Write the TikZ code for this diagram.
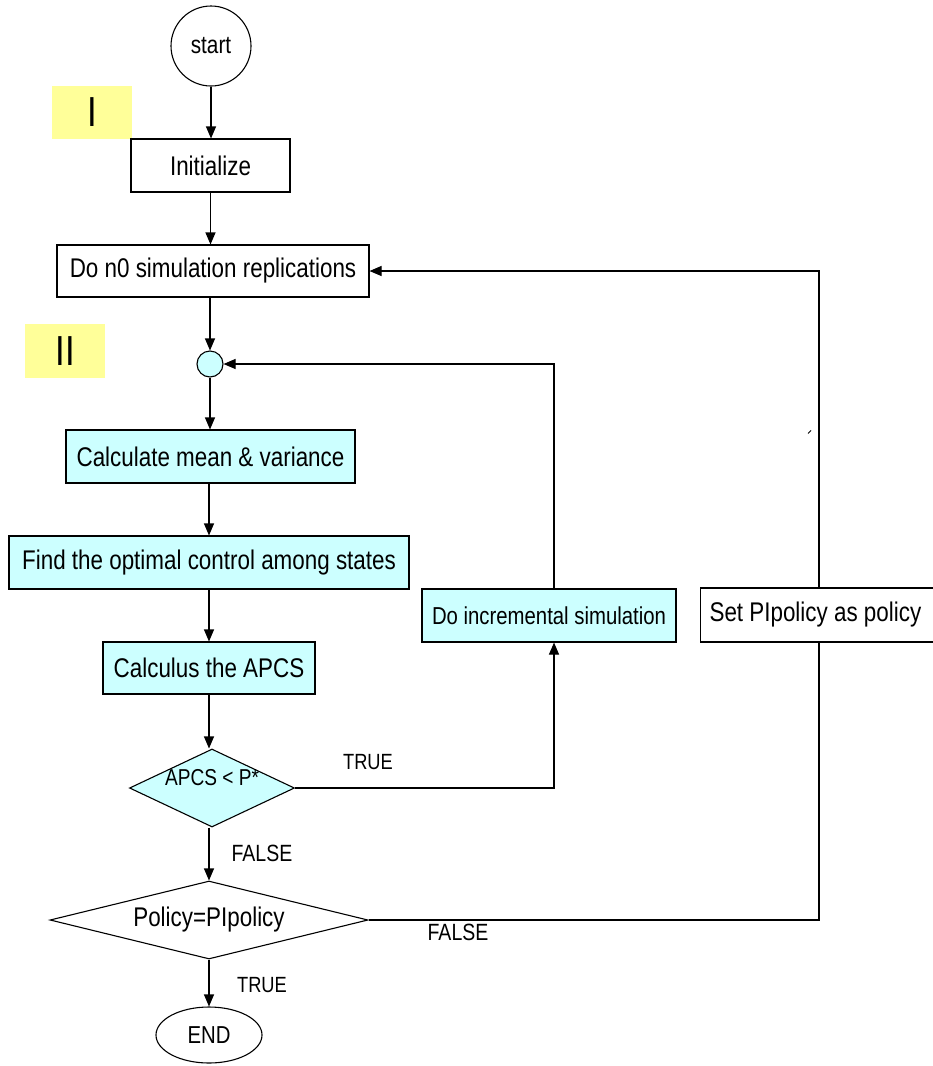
\documentclass[tikz,border=0pt]{standalone}
\usepackage{fontspec}
\setmainfont{Liberation Sans}[FakeStretch=0.83]
\usetikzlibrary{shapes.geometric,arrows.meta}
\definecolor{lcyan}{HTML}{CCFFFF}
\definecolor{lyellow}{HTML}{FFFF99}
\tikzset{
  every node/.style={font=\fontsize{27}{32}\selectfont, inner sep=0pt},
  box/.style={draw, line width=1.1pt, rectangle},
  cbox/.style={box, fill=lcyan},
  dia/.style={draw, line width=1.1pt, diamond, inner sep=0pt},
  arr/.style={line width=1.1pt, -{Triangle[length=12pt,width=10pt]}},
  ln/.style={line width=1.1pt},
  lbl/.style={font=\fontsize{22}{26}\selectfont},
  tag/.style={fill=lyellow, font=\fontsize{42}{48}\selectfont}
}
\begin{document}
\begin{tikzpicture}[x=1pt,y=-1pt]
\useasboundingbox (0,0) rectangle (933,1066);
\begin{scope}
\clip (0,0) rectangle (933,1066);
% yellow tags
\node[tag, minimum width=80pt, minimum height=53pt] (tagI) at (92,112.5) {I};
\node[tag, minimum width=80pt, minimum height=54pt] (tagII) at (65,351) {II};
% nodes
\node[draw, line width=1.1pt, circle, minimum size=80pt, font=\fontsize{25}{30}\selectfont] (start) at (211,46) {start};
\node[box, minimum width=159pt, minimum height=53pt] (init) at (210.5,165.5) {Initialize};
\node[box, minimum width=312pt, minimum height=52pt] (don) at (213,271) {Do n0 simulation replications};
\node[draw, line width=1.1pt, circle, fill=lcyan, minimum size=26pt] (dot) at (210,364) {};
\node[cbox, minimum width=289pt, minimum height=53pt] (calc) at (210.5,456.5) {Calculate mean \& variance};
\node[cbox, minimum width=400pt, minimum height=53pt] (find) at (209,562.5) {Find the optimal control among states};
\node[cbox, minimum width=212pt, minimum height=52pt] (apcsc) at (209,668) {Calculus the APCS};
\node[dia, fill=lcyan, minimum width=165pt, minimum height=78pt, aspect=2.1] (apcs) at (212,788) {};
\node[font=\fontsize{23}{27}\selectfont] (apcst) at (212,778) {APCS < P*};
\node[dia, minimum width=318pt, minimum height=78pt, aspect=4.1] (pol) at (209,920) {Policy=PIpolicy};
\node[draw, line width=1.1pt, ellipse, minimum width=106pt, minimum height=56pt, font=\fontsize{24.5}{29}\selectfont] (end) at (209,1035) {END};
\node[cbox, minimum width=254pt, minimum height=53pt, font=\fontsize{24.5}{29}\selectfont] (incr) at (549,615.5) {Do incremental simulation};
\node[box, inner xsep=9pt, minimum height=54pt, anchor=west] (set) at (700,615) {\makebox[232pt][l]{Set PIpolicy as policy}};
\coordinate (xa) at (554,0);
\coordinate (xb) at (819,0);
% labels
\node[lbl] (t1) at (368,762) {TRUE};
\node[lbl, font=\fontsize{23.5}{28}\selectfont] (f1) at (262,853) {FALSE};
\node[lbl, font=\fontsize{23.5}{28}\selectfont] (f2) at (458,932) {FALSE};
\node[lbl] (t2) at (262,985) {TRUE};
% connectors
\draw[arr] (start.south) -- (init.north -| start.south);
\draw[arr] (init.south) -- (init.south |- don.north);
\draw[arr] (dot.north |- don.south) -- (dot.north);
\draw[arr] (dot.south) -- (dot.south |- calc.north);
\draw[arr] (calc.south -| find.north) -- (find.north);
\draw[arr] (find.south) -- (apcsc.north);
\draw[arr] (apcsc.south) -- (apcsc.south |- apcs.north);
\draw[arr] (apcsc.south |- apcs.south) -- (apcsc.south |- pol.north);
\draw[arr] (pol.south) -- (end.north);
\draw[arr] (apcs.east) -| (xa |- incr.south);
\draw[arr] (xa |- incr.north) |- (dot.east);
\draw[ln] (pol.east) -| (xb |- set.south);
\draw[arr] (xb |- set.north) |- (don.east);
\draw[line width=1pt] (808,433.5) -- (811,430.5);
\end{scope}
\end{tikzpicture}
\end{document}
